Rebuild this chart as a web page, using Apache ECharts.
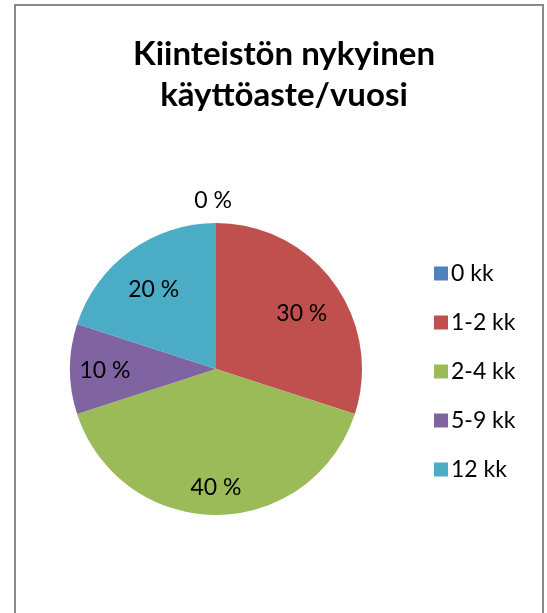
<!DOCTYPE html>
<html><head><meta charset="utf-8">
<script src="https://cdn.jsdelivr.net/npm/echarts@6/dist/echarts.min.js"></script>
<style>html,body{margin:0;padding:0;background:#fff}#c{width:547px;height:613px}</style>
</head><body><div id="c"></div>
<script>
const categories = ['0 kk', '1-2 kk', '2-4 kk', '5-9 kk', '12 kk'];
const values = [0, 30, 40, 10, 20];
const colors = ['#4F81BD', '#C0504D', '#9BBB59', '#8064A2', '#4BACC6'];
const titleText = 'Kiinteistön nykyinen\nkäyttöaste/vuosi';

const chart = echarts.init(document.getElementById('c'), null, {renderer: 'canvas'});
const font = 'Lato, "Open Sans", sans-serif';
const total = values.reduce((a, b) => a + b, 0);
const labelOffsets = [[-3, -57], [-4, 10], [0, 8], [0, 2], [3, 10]];
const pieData = categories.map((c, i) => ({name: c, value: values[i], itemStyle: {color: colors[i]}}));
const labelData = categories.map((c, i) => ({
  name: c, value: values[i],
  itemStyle: {color: 'transparent'},
  label: {position: 'inside', offset: labelOffsets[i]},
  labelLine: {show: false}
}));
chart.setOption({
  backgroundColor: '#fff',
  animation: false,
  color: colors,
  title: {
    text: titleText, left: 279, top: 29, textAlign: 'center',
    textStyle: {fontFamily: font, fontSize: 33, fontWeight: 'bold', color: '#000', lineHeight: 41}
  },
  legend: {
    orient: 'vertical', left: 429, top: 257, itemGap: 26,
    itemWidth: 14, itemHeight: 14, icon: 'rect',
    data: categories,
    textStyle: {fontFamily: font, fontSize: 23, color: '#000', lineHeight: 23, padding: [0, 0, 0, -2]}
  },
  graphic: [{
    type: 'rect', shape: {x: 15, y: 5, width: 528, height: 640},
    style: {fill: 'none', stroke: '#8a8a8a', lineWidth: 2}, silent: true, z: -1
  }],
  series: [{
    type: 'pie', center: [216, 369], radius: [0, 146], startAngle: 90, clockwise: true,
    data: pieData, label: {show: false}, labelLine: {show: false}, silent: true,
    stillShowZeroSum: true, minAngle: 0, avoidLabelOverlap: false
  }, {
    type: 'pie', center: [216, 369], radius: [70, 146], startAngle: 90, clockwise: true,
    data: labelData, silent: true, avoidLabelOverlap: false, legendHoverLink: false,
    label: {
      show: true, fontFamily: font, fontSize: 23, color: '#000',
      formatter: p => Math.round(p.value / total * 100) + ' %'
    },
    labelLine: {show: false}
  }]
});
</script></body></html>
